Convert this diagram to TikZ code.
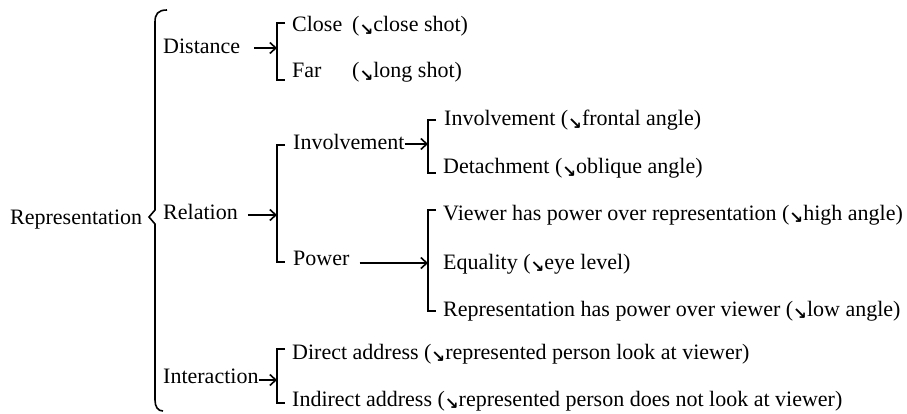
\documentclass[tikz,border=0pt]{standalone}
\usepackage{fontspec}
\setmainfont{Liberation Serif}
\newfontfamily\dejavu{DejaVu Sans}
\usetikzlibrary{arrows.meta}
\newcommand{\sarr}{\raisebox{-0.15em}{\scalebox{0.75}{\dejavu\bfseries ↘}}}
\begin{document}
\begin{tikzpicture}[x=1pt,y=-1pt,
  txt/.style={anchor=base west, inner sep=0pt, font=\fontsize{22}{26}\selectfont},
  brk/.style={line width=1.6pt},
  arr/.style={-{Straight Barb[length=6pt,width=11pt,line width=1.6pt]}, line width=1.6pt}]
\useasboundingbox (0,0) rectangle (907,414);
% texts
\node[txt] (rep) at (10,225) {Representation};
\node[txt] (dist) at (163,54) {Distance};
\node[txt] (rel) at (163,219) {Relation};
\node[txt] (inter) at (163,383) {Interaction};
\node[txt] (close) at (292,32) {\makebox[60pt][l]{Close}(\sarr close shot)};
\node[txt] (far) at (292,78) {\makebox[60pt][l]{Far}(\sarr long shot)};
\node[txt] (inv) at (293,150) {Involvement};
\node[txt] (pow) at (293,265) {Power};
\node[txt] (invr) at (444,126) {Involvement (\sarr frontal angle)};
\node[txt] (det) at (443,174) {Detachment (\sarr oblique angle)};
\node[txt] (view) at (443,220) {Viewer has power over representation (\sarr high angle)};
\node[txt] (equ) at (443,269) {Equality (\sarr eye level)};
\node[txt] (reph) at (443,316) {Representation has power over viewer (\sarr low angle)};
\node[txt] (dir) at (292,359) {Direct address (\sarr represented person look at viewer)};
\node[txt] (ind) at (292,406) {Indirect address (\sarr represented person does not look at viewer)};
% big brace
\draw[brk] (167,10) .. controls (158,10) and (155,14) .. (155,22)
  -- (155,210) -- (149,217) -- (155,224) -- (155,400)
  .. controls (155,407) and (158,411) .. (163,411);
% brackets
\coordinate (bd) at (277,48);
\draw[brk] (285,23) -- (277,23) -- (277,80) -- (285,80);
\coordinate (br) at (277,215);
\draw[brk] (285,145) -- (277,145) -- (277,262) -- (285,262);
\coordinate (bi) at (428,144);
\draw[brk] (436,120) -- (428,120) -- (428,173) -- (436,173);
\coordinate (bp) at (428,263);
\draw[brk] (436,210) -- (428,210) -- (428,311) -- (436,311);
\coordinate (bx) at (277,380);
\draw[brk] (285,349) -- (277,349) -- (277,403) -- (285,403);
% arrows
\draw[arr] ([xshift=14pt]dist.east |- bd) -- (bd);
\draw[arr] ([xshift=10pt]rel.east |- br) -- (br);
\draw[arr] (inv.east |- bi) -- (bi);
\draw[arr] ([xshift=10pt]pow.east |- bp) -- (bp);
\draw[arr] (inter.east |- bx) -- (bx);
\end{tikzpicture}
\end{document}
